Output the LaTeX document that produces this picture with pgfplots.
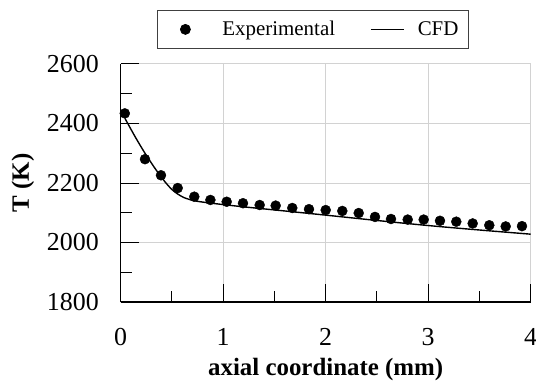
\documentclass[border=0pt]{standalone}
\usepackage{pgfplots}
\pgfplotsset{compat=1.18}
\usepackage{fontspec}
\setmainfont{Liberation Serif}
\begin{document}
\begin{tikzpicture}
\begin{axis}[
  at={(0,0)}, anchor=south west,
  set layers,
  scale only axis,
  width=410bp, height=238bp,
  xmin=0, xmax=4, ymin=1800, ymax=2600,
  xtick={0,1,2,3,4}, ytick={1800,2000,2200,2400,2600},
  minor x tick num=1, minor y tick num=1,
  axis x line*=bottom, axis y line*=left,
  axis line style={black, line width=1.2pt},
  tick align=inside,
  major tick length=18bp, minor tick length=11bp,
  major tick style={black, line width=1pt},
  minor tick style={black, line width=1pt},
  grid=major,
  major grid style={gray!35, line width=1pt},
  /pgf/number format/assume math mode=true,
  /pgf/number format/1000 sep={},
  xticklabel style={font=\fontsize{26}{30}\selectfont, anchor=center, inner sep=0pt, yshift=-35bp},
  yticklabel style={font=\fontsize{26}{30}\selectfont, anchor=east, inner sep=0pt, xshift=-21.7bp},
  xlabel={\textbf{axial coordinate (mm)}},
  ylabel={\textbf{T (K)}},
  label style={font=\fontsize{25}{30}\selectfont},
  xlabel style={at={(axis description cs:0.5,0)}, anchor=base, inner sep=0pt, yshift=-73bp},
  ylabel style={at={(axis description cs:0,0.5)}, anchor=center, inner sep=0pt, rotate=0, yshift=97.7bp},
  legend columns=2,
  legend style={at={(axis description cs:0,1)}, anchor=north west, xshift=36.3bp, yshift=54bp,
    draw=black!75, line width=0.8pt,
    font=\fontsize{21}{25}\selectfont, inner xsep=8bp, inner ysep=9bp,
    /tikz/every odd column/.append style={column sep=5bp},
    /tikz/every even column/.append style={column sep=33bp}},
  legend cell align=left,
]
\addplot[only marks, mark=*, mark size=5bp, black,
  legend image code/.code={\path[draw=none] (0,0) -- (50bp,0); \fill[black] (20bp,0) circle (5bp);}] coordinates {
(0.04,2434) (0.237,2280) (0.393,2226) (0.556,2183) (0.718,2154) (0.875,2143)
(1.034,2137) (1.193,2132) (1.356,2126) (1.512,2124) (1.674,2116) (1.837,2112)
(2.0,2109) (2.162,2106) (2.322,2099) (2.481,2086) (2.637,2079) (2.80,2077)
(2.956,2077) (3.115,2073) (3.274,2070) (3.434,2064) (3.596,2058) (3.756,2054)
(3.915,2055)
};
\addlegendentry{Experimental}
\addplot[black, line width=1.4pt, smooth, tension=0.5,
  legend image code/.code={\path[draw=none] (0,0) -- (40bp,0); \draw[black, line width=1.4pt] (0,0) -- (33bp,0);}] coordinates {
(0.042,2417) (0.14,2356) (0.237,2300) (0.335,2249) (0.432,2204) (0.513,2174)
(0.611,2152) (0.725,2140) (0.888,2132) (1.196,2120) (1.6,2106) (2.0,2092)
(2.5,2074) (3.0,2057) (3.5,2042) (4.0,2028)
};
\addlegendentry{CFD}
\end{axis}
\pgfresetboundingbox
\useasboundingbox (-120.7bp,-80bp) rectangle (415.3bp,302bp);
\end{tikzpicture}
\end{document}
